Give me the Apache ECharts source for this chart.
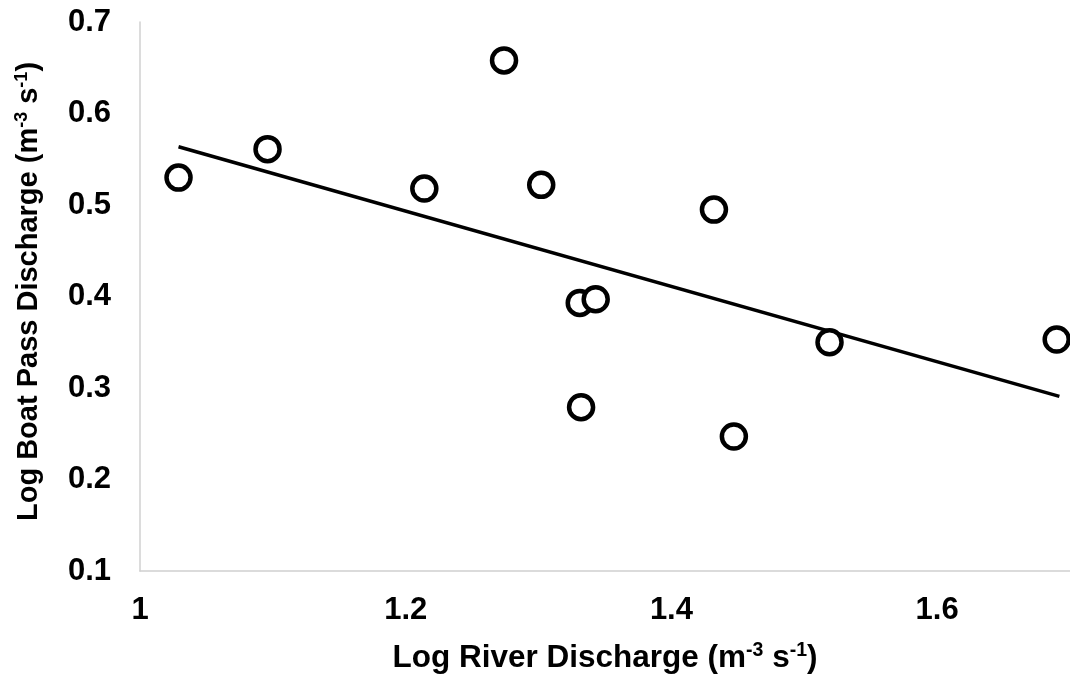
<!DOCTYPE html>
<html>
<head>
<meta charset="utf-8">
<script src="https://cdn.jsdelivr.net/npm/echarts@6/dist/echarts.min.js"></script>
<style>
html,body{margin:0;padding:0;background:#fff;}
#chart{width:1070px;height:679px;}
</style>
</head>
<body>
<div id="chart"></div>
<script>
var riverDischarge = [1.029, 1.096, 1.214, 1.274, 1.302, 1.331, 1.343, 1.332, 1.432, 1.447, 1.519, 1.690];
var boatDischarge  = [0.530, 0.561, 0.518, 0.658, 0.522, 0.393, 0.397, 0.279, 0.495, 0.247, 0.350, 0.353];
var trendX = [1.029, 1.692];
var trendY = [0.5636, 0.2909];
var xTicks = [1, 1.2, 1.4, 1.6];
var yTicks = [0.1, 0.2, 0.3, 0.4, 0.5, 0.6, 0.7];

var pts = riverDischarge.map(function(x, i){ return [x, boatDischarge[i]]; });
var trend = trendX.map(function(x, i){ return [x, trendY[i]]; });

var FONT = '"Liberation Sans", Arial, sans-serif';
function makeRich(size, supSize, supPad){
  return {
    a: {fontFamily: FONT, fontWeight: 'bold', fontSize: size, color: '#000'},
    sup: {fontFamily: FONT, fontWeight: 'bold', fontSize: supSize, color: '#000', verticalAlign: 'top', padding: [0,0,supPad,0]}
  };
}

var chart = echarts.init(document.getElementById('chart'), null, {renderer: 'canvas'});
chart.setOption({
  animation: false,
  backgroundColor: '#fff',
  grid: {left: 140, right: 0, top: 22, bottom: 107, containLabel: false},
  xAxis: {
    type: 'value', min: 1, max: 1.7, interval: 0.2,
    axisLine: {show: true, lineStyle: {color: '#d0d0d0', width: 1.5}},
    axisTick: {show: false},
    splitLine: {show: false},
    axisLabel: {
      fontFamily: FONT, fontWeight: 'bold', fontSize: 31, color: '#000', margin: 24,
      formatter: function(v){ return xTicks.some(function(t){return Math.abs(t-v)<1e-9;}) ? String(+v.toFixed(1)) : ''; },
      showMaxLabel: false
    },
    name: '{a|Log River Discharge (m}{sup|-3}{a| s}{sup|-1}{a|)}',
    nameLocation: 'middle', nameGap: 70,
    nameTextStyle: {rich: makeRich(31.5, 19.5, 14)}
  },
  yAxis: {
    type: 'value', min: 0.1, max: 0.7, interval: 0.1,
    axisLine: {show: true, lineStyle: {color: '#d0d0d0', width: 1.5}},
    axisTick: {show: false},
    splitLine: {show: false},
    axisLabel: {
      fontFamily: FONT, fontWeight: 'bold', fontSize: 31, color: '#000', margin: 29,
      formatter: function(v){ return yTicks.some(function(t){return Math.abs(t-v)<1e-9;}) ? v.toFixed(1) : ''; }
    },
    name: '{a|Log Boat Pass Discharge (m}{sup|-3}{a| s}{sup|-1}{a|)}',
    nameLocation: 'middle', nameGap: 96, nameRotate: 90,
    nameTextStyle: {rich: makeRich(29, 18, 13), padding: [0, 0, 0, 10]}
  },
  series: [
    {
      type: 'line', data: trend, showSymbol: false, symbol: 'none',
      lineStyle: {color: '#000', width: 3.5}, z: 2, silent: true
    },
    {
      type: 'scatter', data: pts, symbol: 'circle', symbolSize: 24,
      itemStyle: {color: '#fff', borderColor: '#000', borderWidth: 4.5, opacity: 1},
      z: 3, clip: false
    }
  ]
});
</script>
</body>
</html>
